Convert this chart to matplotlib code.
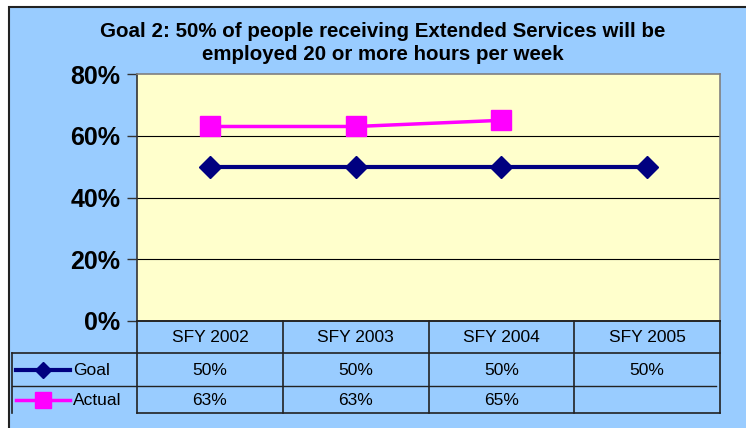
import matplotlib
matplotlib.use("Agg")
import matplotlib.pyplot as plt
from matplotlib.patches import Rectangle

plt.rcParams['font.family'] = ['Liberation Sans', 'DejaVu Sans']

categories = ["SFY 2002", "SFY 2003", "SFY 2004", "SFY 2005"]
goal = [0.50, 0.50, 0.50, 0.50]
actual = [0.63, 0.63, 0.65, None]
y_ticks = [0.0, 0.2, 0.4, 0.6, 0.8]
y_tick_labels = ["0%", "20%", "40%", "60%", "80%"]
title = "Goal 2: 50% of people receiving Extended Services will be\nemployed 20 or more hours per week"

W, H = 746, 428
BG = "#99CCFF"
PLOT_BG = "#FFFFCC"
GOAL_C = "#000080"
ACT_C = "#FF00FF"

fig = plt.figure(figsize=(W / 100, H / 100), dpi=100)
fig.patch.set_facecolor("white")

def fx(px):
    return px / W

def fy(py):
    return 1 - py / H

# outer chart area
fig.patches.append(Rectangle((fx(9), -0.1), 1.2, fy(7) + 0.1, transform=fig.transFigure,
                             facecolor=BG, edgecolor="#222222", lw=1.5, zorder=-5))

L, R, T, B = 137, 720, 74, 321
ax = fig.add_axes([fx(L), fy(B), fx(R - L), (B - T) / H])
ax.set_facecolor(PLOT_BG)
ax.set_xlim(-0.5, len(categories) - 0.5)
ax.set_ylim(0, 0.8)
ax.set_yticks(y_ticks)
ax.set_yticklabels(y_tick_labels, fontsize=18, fontweight="bold")
ax.set_xticks([])
for yv in y_ticks[1:-1]:
    ax.axhline(yv, color="black", lw=0.8, zorder=1)
ax.tick_params(axis="y", length=7, width=1, color="#333333", pad=5)
for s in ["top", "right"]:
    ax.spines[s].set_color("#808080")
    ax.spines[s].set_linewidth(1.2)
ax.spines["left"].set_color("#333333")
ax.spines["left"].set_linewidth(1.2)
ax.spines["bottom"].set_color("#333333")
ax.spines["bottom"].set_linewidth(1.2)

xs = list(range(len(categories)))
ax.plot(xs, goal, color=GOAL_C, lw=3.0, marker="D", ms=11, mfc=GOAL_C, mec=GOAL_C, zorder=3,
        clip_on=False)
ax_x = [x for x, v in zip(xs, actual) if v is not None]
ax_v = [v for v in actual if v is not None]
ax.plot(ax_x, ax_v, color=ACT_C, lw=2.5, marker="s", ms=15, mfc=ACT_C, mec=ACT_C, zorder=3,
        clip_on=False)

fig.text(fx(383), fy(43), title, ha="center", va="center", fontsize=14.8, fontweight="bold",
         linespacing=1.32)

# data table
TL, TB = 12, 413
rows = [321, 353, 386, 413]
tab = fig.add_axes([fx(TL), fy(TB), fx(R - TL), (TB - B) / H])
tab.set_xlim(-0.5 - (L - TL) / ((R - L) / len(categories)), len(categories) - 0.5)
tab.set_ylim(TB, B)
tab.axis("off")
tab.patch.set_alpha(0)
lc = "#222222"
x_left = tab.get_xlim()[0]
# horizontal lines
tab.plot([-0.5, 3.5], [rows[0], rows[0]], color=lc, lw=1.2, clip_on=False)
tab.plot([x_left, 3.5], [rows[1], rows[1]], color=lc, lw=1.2, clip_on=False)
tab.plot([x_left, 3.47], [rows[2], rows[2]], color=lc, lw=1.0, clip_on=False)
tab.plot([-0.5, 3.5], [rows[3], rows[3]], color=lc, lw=1.2, clip_on=False)
# vertical lines
for xb in [-0.5, 0.5, 1.5, 2.5, 3.5]:
    tab.plot([xb, xb], [rows[0], rows[3]], color=lc, lw=1.2, clip_on=False)
tab.plot([x_left, x_left], [rows[1], rows[3]], color=lc, lw=1.2, clip_on=False)

def fmt(v):
    return "" if v is None else f"{round(v * 100)}%"

for i, c in enumerate(categories):
    tab.text(i, (rows[0] + rows[1]) / 2 + 1, c, ha="center", va="center", fontsize=12.5)
    tab.text(i, (rows[1] + rows[2]) / 2 + 1, fmt(goal[i]), ha="center", va="center", fontsize=12.5)
    tab.text(i, (rows[2] + rows[3]) / 2 + 1, fmt(actual[i]), ha="center", va="center", fontsize=12.5)

# legend keys in table
span = (L - TL) / ((R - L) / len(categories))
def px2x(px):
    return x_left + (px - TL) / (L - TL) * span

ky1 = (rows[1] + rows[2]) / 2
ky2 = (rows[2] + rows[3]) / 2
tab.plot([px2x(16), px2x(70)], [ky1, ky1], color=GOAL_C, lw=3.0, clip_on=False)
tab.plot([px2x(43)], [ky1], marker="D", ms=8, color=GOAL_C, clip_on=False)
tab.plot([px2x(16), px2x(70)], [ky2, ky2], color=ACT_C, lw=2.5, clip_on=False)
tab.plot([px2x(43)], [ky2], marker="s", ms=11, color=ACT_C, clip_on=False)
tab.text(px2x(73), ky1 + 1, "Goal", ha="left", va="center", fontsize=12.5)
tab.text(px2x(73), ky2 + 1, "Actual", ha="left", va="center", fontsize=12.5)

fig.savefig("out.png", dpi=100, facecolor=fig.get_facecolor())
